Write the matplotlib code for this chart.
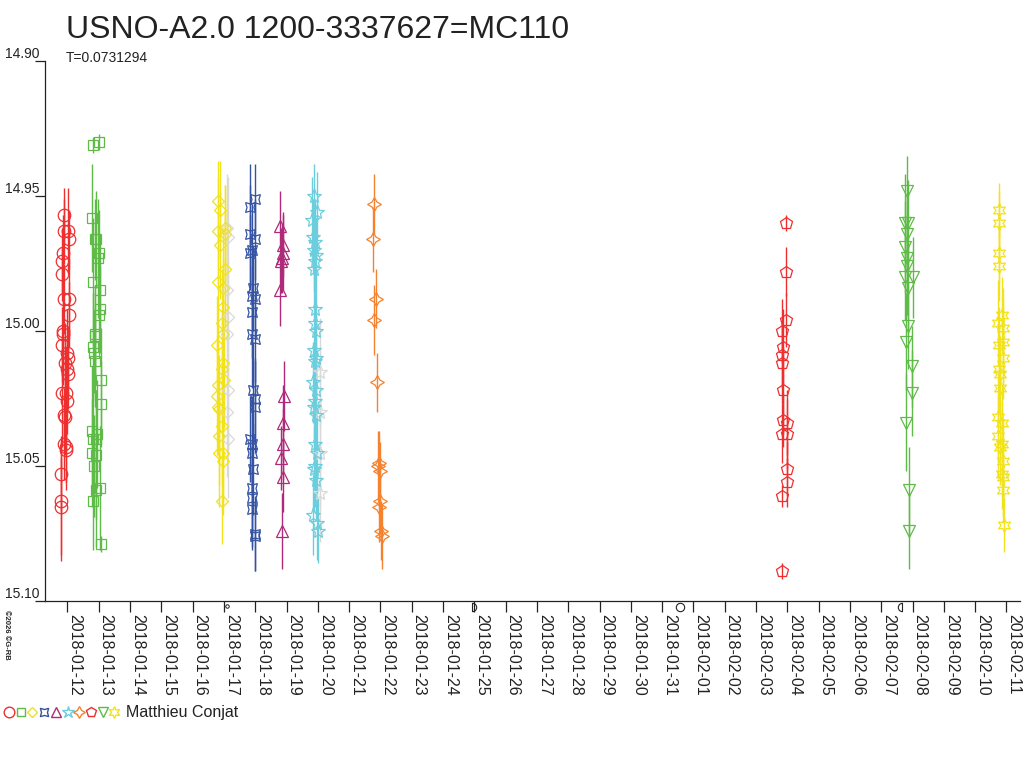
import matplotlib
matplotlib.use('Agg')
import matplotlib.pyplot as plt
import matplotlib.transforms as mtransforms
from matplotlib.path import Path
import numpy as np
import pandas as pd

plt.rcParams['font.family'] = ['Liberation Sans', 'DejaVu Sans']

title = "USNO-A2.0 1200-3337627=MC110"
subtitle = "T=0.0731294"
observer = "Matthieu Conjat"
copyright_text = "©2026 ©G-RB"

# time in days counted from 2018-01-00 (12.0 = 2018-01-12, 32.0 = 2018-02-01)
red_circle_t = [11.902, 11.902, 12.030, 12.062, 11.870, 11.838, 11.838, 11.902, 12.062, 12.062,
                11.870, 11.849, 11.838, 11.998, 12.030, 11.923, 11.977, 12.009, 11.955, 11.817,
                11.977, 11.891, 11.923, 11.902, 11.945, 11.945, 11.796, 11.796, 11.796]
red_circle_mag = [14.957, 14.963, 14.963, 14.966, 14.971, 14.974, 14.979, 14.988, 14.988, 14.994,
                  15.000, 15.001, 15.005, 15.008, 15.010, 15.012, 15.014, 15.016, 15.023, 15.023,
                  15.026, 15.031, 15.032, 15.042, 15.043, 15.044, 15.053, 15.063, 15.065]
red_circle_err = [0.010, 0.012, 0.016, 0.011, 0.014, 0.012, 0.010, 0.013, 0.015, 0.012,
                  0.020, 0.018, 0.014, 0.016, 0.012, 0.015, 0.011, 0.013, 0.017, 0.020,
                  0.012, 0.010, 0.014, 0.013, 0.016, 0.012, 0.014, 0.022, 0.018]

green_square_t = [13.020, 12.807, 12.797, 12.882, 12.914, 13.020, 12.988, 12.807, 13.042, 13.042,
                  13.020, 12.882, 12.882, 12.829, 12.850, 12.882, 13.063, 13.063, 12.797, 12.935,
                  12.829, 12.914, 12.797, 12.914, 12.850, 12.914, 13.042, 12.829, 13.063]
green_square_mag = [14.930, 14.931, 14.958, 14.966, 14.966, 14.971, 14.973, 14.982, 14.985, 14.992,
                    14.994, 15.001, 15.002, 15.006, 15.008, 15.011, 15.018, 15.027, 15.037, 15.038,
                    15.040, 15.040, 15.045, 15.046, 15.050, 15.059, 15.058, 15.063, 15.079]
green_square_err = [0.003, 0.003, 0.020, 0.015, 0.018, 0.016, 0.022, 0.024, 0.018, 0.016,
                    0.014, 0.018, 0.016, 0.020, 0.015, 0.017, 0.019, 0.016, 0.024, 0.020,
                    0.022, 0.018, 0.020, 0.024, 0.019, 0.021, 0.023, 0.018, 0.003]

yellow_diamond_t = [16.822, 16.875, 16.822, 17.035, 17.035, 16.875, 17.035, 16.822, 16.982, 16.960,
                    16.929, 16.982, 16.790, 16.960, 16.929, 17.014, 16.822, 16.769, 16.822, 16.854,
                    16.929, 16.854, 16.854, 16.982, 16.960, 16.929]
yellow_diamond_mag = [14.952, 14.955, 14.963, 14.962, 14.964, 14.968, 14.977, 14.982, 14.984, 14.991,
                      14.997, 15.001, 15.005, 15.012, 15.014, 15.018, 15.020, 15.024, 15.028, 15.029,
                      15.035, 15.039, 15.045, 15.045, 15.048, 15.063]
yellow_diamond_err = [0.015, 0.018, 0.020, 0.016, 0.018, 0.020, 0.022, 0.020, 0.022, 0.018,
                      0.020, 0.022, 0.018, 0.020, 0.022, 0.018, 0.020, 0.022, 0.018, 0.020,
                      0.022, 0.018, 0.020, 0.018, 0.020, 0.016]

gray_diamond_t = [17.10, 17.12, 17.10, 17.12, 17.10, 17.12, 17.10, 17.12]
gray_diamond_mag = [14.962, 14.965, 14.985, 14.995, 15.001, 15.022, 15.030, 15.040]
gray_diamond_err = [0.020, 0.022, 0.020, 0.022, 0.024, 0.022, 0.024, 0.022]

blue_star_t = [17.994, 17.834, 17.834, 17.994, 17.887, 17.834, 17.940, 17.887, 17.994, 17.887,
               17.887, 17.994, 17.940, 17.994, 17.994, 17.834, 17.887, 17.887, 17.940, 17.887,
               17.887, 17.887, 17.994, 17.994]
blue_star_mag = [14.951, 14.954, 14.964, 14.966, 14.970, 14.971, 14.984, 14.987, 14.988, 14.993,
                 15.001, 15.003, 15.022, 15.025, 15.028, 15.040, 15.042, 15.045, 15.051, 15.058,
                 15.062, 15.066, 15.075, 15.076]
blue_star_err = [0.013, 0.016, 0.018, 0.015, 0.017, 0.014, 0.016, 0.018, 0.015, 0.017,
                 0.020, 0.016, 0.018, 0.015, 0.017, 0.016, 0.018, 0.015, 0.017, 0.016,
                 0.018, 0.015, 0.014, 0.013]

purple_tri_t = [18.792, 18.878, 18.878, 18.845, 18.814, 18.792, 18.920, 18.878, 18.899, 18.814,
                18.899, 18.845]
purple_tri_mag = [14.961, 14.968, 14.971, 14.973, 14.974, 14.985, 15.024, 15.034, 15.042, 15.047,
                  15.054, 15.074]
purple_tri_err = [0.013, 0.012, 0.014, 0.013, 0.012, 0.013, 0.013, 0.014, 0.013, 0.012,
                  0.013, 0.014]

cyan_star_t = [19.879, 19.985, 19.804, 19.836, 19.911, 19.879, 19.942, 19.911, 19.879, 19.911,
               19.911, 19.942, 19.879, 19.942, 19.911, 19.857, 19.942, 19.911, 19.879, 19.942,
               19.911, 19.985, 19.911, 19.879, 19.942, 19.857, 19.964, 20.017]
cyan_star_mag = [14.950, 14.956, 14.959, 14.965, 14.967, 14.970, 14.972, 14.974, 14.977, 14.992,
                 14.997, 15.000, 15.007, 15.010, 15.011, 15.019, 15.022, 15.026, 15.028, 15.031,
                 15.042, 15.045, 15.050, 15.051, 15.055, 15.068, 15.071, 15.074]
cyan_star_err = [0.012, 0.015, 0.016, 0.014, 0.016, 0.015, 0.014, 0.016, 0.015, 0.016,
                 0.015, 0.014, 0.016, 0.015, 0.017, 0.015, 0.016, 0.014, 0.016, 0.015,
                 0.016, 0.014, 0.015, 0.016, 0.014, 0.015, 0.014, 0.012]

gray_star_t = [20.08, 20.06, 20.08, 20.06]
gray_star_mag = [15.015, 15.030, 15.045, 15.060]
gray_star_err = [0.020, 0.022, 0.020, 0.018]

orange_star_t = [21.806, 21.774, 21.859, 21.796, 21.902, 21.966, 21.934, 21.987, 21.987, 21.966,
                 22.009, 22.041]
orange_star_mag = [14.953, 14.966, 14.988, 14.996, 15.019, 15.049, 15.050, 15.052, 15.063, 15.065,
                   15.074, 15.076]
orange_star_err = [0.011, 0.012, 0.011, 0.013, 0.011, 0.012, 0.013, 0.011, 0.012, 0.013,
                   0.011, 0.012]

red_pent_t = [34.958, 34.958, 34.958, 34.820, 34.873, 34.820, 34.820, 34.873, 34.873, 35.001,
              34.820, 35.001, 35.001, 34.980, 34.841, 34.841]
red_pent_mag = [14.960, 14.978, 14.996, 15.000, 15.006, 15.009, 15.012, 15.022, 15.033, 15.034,
                15.038, 15.038, 15.051, 15.056, 15.061, 15.089]
red_pent_err = [0.003, 0.009, 0.010, 0.012, 0.014, 0.012, 0.015, 0.016, 0.010, 0.012,
                0.011, 0.013, 0.010, 0.009, 0.004, 0.003]

green_dtri_t = [38.835, 38.867, 38.761, 38.835, 38.761, 38.835, 38.835, 38.761, 39.006, 38.867,
                38.867, 38.793, 38.974, 38.974, 38.793, 38.899, 38.899]
green_dtri_mag = [14.948, 14.960, 14.960, 14.964, 14.969, 14.973, 14.976, 14.980, 14.980, 14.984,
                  14.998, 15.004, 15.013, 15.023, 15.034, 15.059, 15.074]
green_dtri_err = [0.013, 0.016, 0.018, 0.015, 0.017, 0.016, 0.018, 0.016, 0.015, 0.017,
                  0.016, 0.018, 0.015, 0.016, 0.018, 0.016, 0.014]

yellow_star_t = [41.775, 41.775, 41.775, 41.775, 41.849, 41.743, 41.902, 41.881, 41.775, 41.902,
                 41.775, 41.796, 41.796, 41.743, 41.849, 41.743, 41.849, 41.796, 41.902, 41.849,
                 41.902, 41.881, 41.924]
yellow_star_mag = [14.955, 14.960, 14.971, 14.976, 14.994, 14.997, 14.999, 15.004, 15.005, 15.010,
                   15.014, 15.016, 15.021, 15.032, 15.034, 15.039, 15.042, 15.043, 15.048, 15.053,
                   15.054, 15.059, 15.072]
yellow_star_err = [0.010, 0.012, 0.011, 0.013, 0.014, 0.016, 0.015, 0.016, 0.014, 0.015,
                   0.016, 0.014, 0.015, 0.016, 0.014, 0.015, 0.016, 0.014, 0.015, 0.013,
                   0.014, 0.012, 0.010]

tick_days = list(range(12, 43))
tick_labels = [d.strftime('%Y-%m-%d') for d in pd.date_range('2018-01-12', '2018-02-11')]
ytick_vals = [14.90, 14.95, 15.00, 15.05, 15.10]

# moon phases: new, first quarter, full, last quarter
moon_days = [17.09, 24.93, 31.56, 38.66]
moon_kinds = ['new', 'first', 'full', 'last']

C_RED = '#ee2f2f'
C_GREEN = '#5fbb47'
C_YELLOW = '#f2e21c'
C_GRAY = '#d9d9d9'
C_BLUE = '#3553a3'
C_PURPLE = '#b02a7a'
C_CYAN = '#6ccedd'
C_ORANGE = '#f5822e'

series = [
    (gray_diamond_t, gray_diamond_mag, gray_diamond_err, C_GRAY, 'D', 6.5),
    (gray_star_t, gray_star_mag, gray_star_err, C_GRAY, '*', 10),
    (red_circle_t, red_circle_mag, red_circle_err, C_RED, 'o', 9),
    (green_square_t, green_square_mag, green_square_err, C_GREEN, 's', 7),
    (yellow_diamond_t, yellow_diamond_mag, yellow_diamond_err, C_YELLOW, 'D', 6.5),
    (blue_star_t, blue_star_mag, blue_star_err, C_BLUE, (4, 1, 45), 10),
    (purple_tri_t, purple_tri_mag, purple_tri_err, C_PURPLE, '^', 8),
    (cyan_star_t, cyan_star_mag, cyan_star_err, C_CYAN, '*', 11),
    (orange_star_t, orange_star_mag, orange_star_err, C_ORANGE, (4, 1, 0), 10),
    (red_pent_t, red_pent_mag, red_pent_err, C_RED, 'p', 9),
    (green_dtri_t, green_dtri_mag, green_dtri_err, C_GREEN, 'v', 8),
    (yellow_star_t, yellow_star_mag, yellow_star_err, C_YELLOW, (6, 1, 0), 10),
]

fig = plt.figure(figsize=(10.24, 7.68), dpi=100)
W, H = 1024, 768
ax = fig.add_axes([45 / W, 1 - 601 / H, (1020 - 45) / W, (601 - 61) / H])

for t, m, e, col, mk, ms in series:
    ax.errorbar(t, m, yerr=e, fmt='none', ecolor=col, elinewidth=1.0, capsize=0, zorder=2)
    ax.plot(t, m, linestyle='none', marker=mk, markersize=ms, markerfacecolor='none',
            markeredgecolor=col, markeredgewidth=0.9, zorder=3)

ax.set_xlim(12 + (45 - 67.4) / 31.3, 12 + (1020 - 67.4) / 31.3)
ax.set_ylim(15.10, 14.90)
ax.spines['top'].set_visible(False)
ax.spines['right'].set_visible(False)
for s in ['left', 'bottom']:
    ax.spines[s].set_linewidth(0.9)
    ax.spines[s].set_color('#222222')

ax.set_xticks(tick_days)
ax.set_xticklabels(tick_labels, rotation=270, ha='left', va='top', fontsize=11.5, color='#222222')
ax.tick_params(axis='x', direction='out', length=8, width=0.9, pad=1, color='#222222')
ax.set_yticks(ytick_vals)
ax.set_yticklabels([f'{v:.2f}' for v in ytick_vals], fontsize=10, color='#222222')
ax.tick_params(axis='y', direction='out', length=7, width=0.9, pad=-3, color='#222222')
for lab in ax.get_yticklabels():
    lab.set_va('bottom')

# moon phase symbols just below the time axis
trans = mtransforms.blended_transform_factory(ax.transData, ax.transAxes)
rh = Path.unit_circle_righthalf()
lh = Path(rh.vertices * np.array([-1, 1]), rh.codes)
for d, k in zip(moon_days, moon_kinds):
    if k == 'new':
        ax.plot([d], [-0.010], transform=trans, marker='o', ms=2.5, mfc='none', mec='#222222',
                mew=0.7, clip_on=False)
    elif k == 'full':
        ax.plot([d], [-0.012], transform=trans, marker='o', ms=6, mfc='none', mec='#222222',
                mew=0.8, clip_on=False)
    elif k == 'first':
        ax.plot([d], [-0.012], transform=trans, marker=rh, ms=6, mfc='none', mec='#222222',
                mew=0.8, clip_on=False)
    else:
        ax.plot([d], [-0.012], transform=trans, marker=lh, ms=6, mfc='none', mec='#222222',
                mew=0.8, clip_on=False)

fig.text(66 / W, 1 - 30 / H, title, fontsize=23, color='#222222', va='center', ha='left')
fig.text(66 / W, 1 - 58 / H, subtitle, fontsize=10, color='#222222', va='center', ha='left')
fig.text(3 / W, 1 - 610 / H, copyright_text, fontsize=5.5, rotation=270, va='top', ha='left',
         color='#222222', fontweight='bold')

# legend row at the bottom
leg = fig.add_axes([0, 0, 1, 1], facecolor='none')
leg.set_xlim(0, W)
leg.set_ylim(H, 0)
leg.axis('off')
legend_items = series[2:]
for i, (t, m, e, col, mk, ms) in enumerate(legend_items):
    leg.plot([9 + i * 11.7], [712], marker=mk, markersize=ms * 0.85, mfc='none', mec=col,
             mew=1.0, linestyle='none')
leg.text(126, 712, observer, fontsize=11.5, color='#222222', va='center', ha='left')

fig.savefig('out.png', dpi=100)
